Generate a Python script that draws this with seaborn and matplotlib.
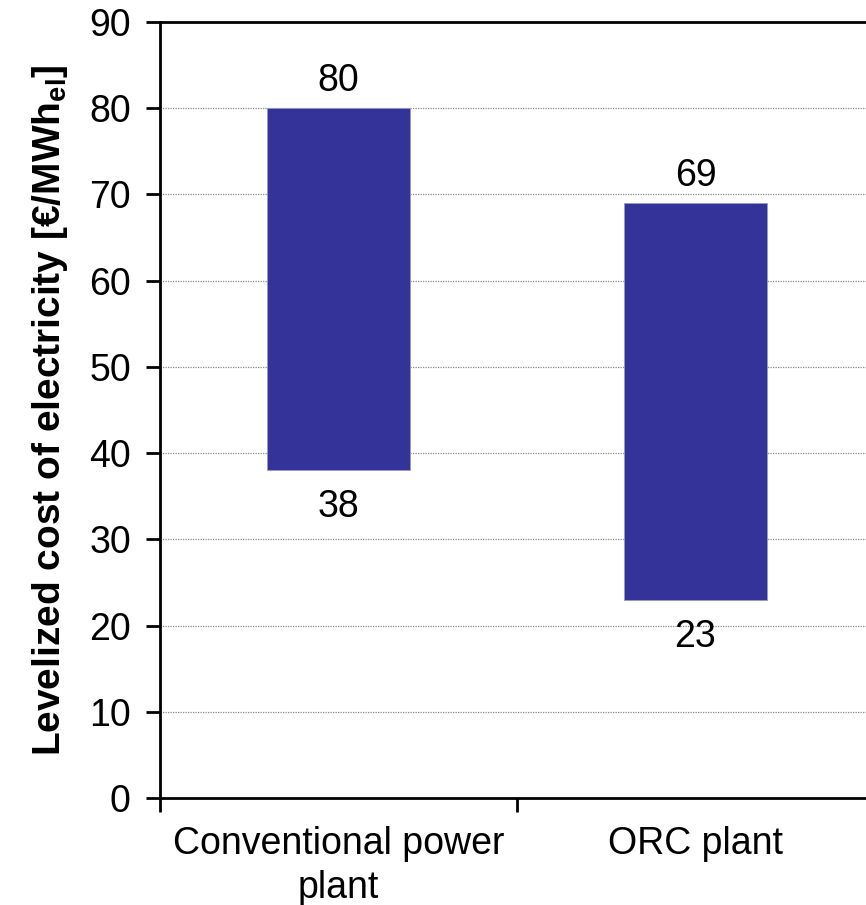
import matplotlib
matplotlib.use("Agg")
import matplotlib.pyplot as plt
import seaborn as sns
import pandas as pd
import numpy as np

categories = ["Conventional power\nplant", "ORC plant"]
low_values = [38, 23]
high_values = [80, 69]

sns.set_style("white")
plt.rcParams['font.family'] = ['Liberation Sans', 'DejaVu Sans']
plt.rcParams['text.color'] = 'black'
plt.rcParams['axes.labelcolor'] = 'black'
plt.rcParams['xtick.color'] = 'black'
plt.rcParams['ytick.color'] = 'black'

df = pd.DataFrame({
    "cat": categories,
    "low": low_values,
    "high": high_values,
})
df["span"] = df["high"] - df["low"]

fig = plt.figure(figsize=(8.66, 9.05), dpi=100)
ax = fig.add_axes([160/866, (905-798)/905, (874-160)/866, (798-22)/905])

sns.barplot(data=df, x="cat", y="span", bottom=df["low"].values, color="#333399",
            saturation=1, width=0.4, edgecolor="#9999cc", linewidth=0.6, ax=ax, zorder=3)

ax.set_ylim(0, 90)
ax.set_xlim(-0.5, 1.5)
ax.set_yticks(np.arange(0, 91, 10))
ax.tick_params(axis="y", labelsize=27, direction="out", length=10, width=2, pad=11, left=True,
               labelcolor="black", color="black")
ax.set_xticks([-0.5, 0.5, 1.5])
ax.set_xticklabels(["", "", ""])
ax.set_xticks([0, 1], minor=True)
ax.set_xticklabels(df["cat"], minor=True, fontsize=27, linespacing=1.3, color="black")
ax.tick_params(axis="x", which="major", direction="out", length=10, width=2, bottom=True, color="black")
ax.tick_params(axis="x", which="minor", length=0, pad=20)

for y in range(10, 90, 10):
    ax.axhline(y, color="#888888", linestyle=(0, (1, 1)), linewidth=0.9, zorder=1)

for s in ["left", "bottom", "top"]:
    ax.spines[s].set_visible(True)
    ax.spines[s].set_color("black")
    ax.spines[s].set_linewidth(2)
ax.spines["right"].set_visible(False)

ax.set_xlabel("")
ax.set_ylabel("Levelized cost of electricity [€/MWh$_\\mathregular{el}$]",
              fontsize=28, fontweight="bold", labelpad=14, color="black")

for i, row in df.iterrows():
    ax.text(i, row["high"] + 2.0, f"{row['high']:g}", ha="center", va="baseline", fontsize=27,
            zorder=4, color="black")
    ax.text(i, row["low"] - 2.2, f"{row['low']:g}", ha="center", va="top", fontsize=27,
            zorder=4, color="black")

fig.savefig("out.png", dpi=100)
